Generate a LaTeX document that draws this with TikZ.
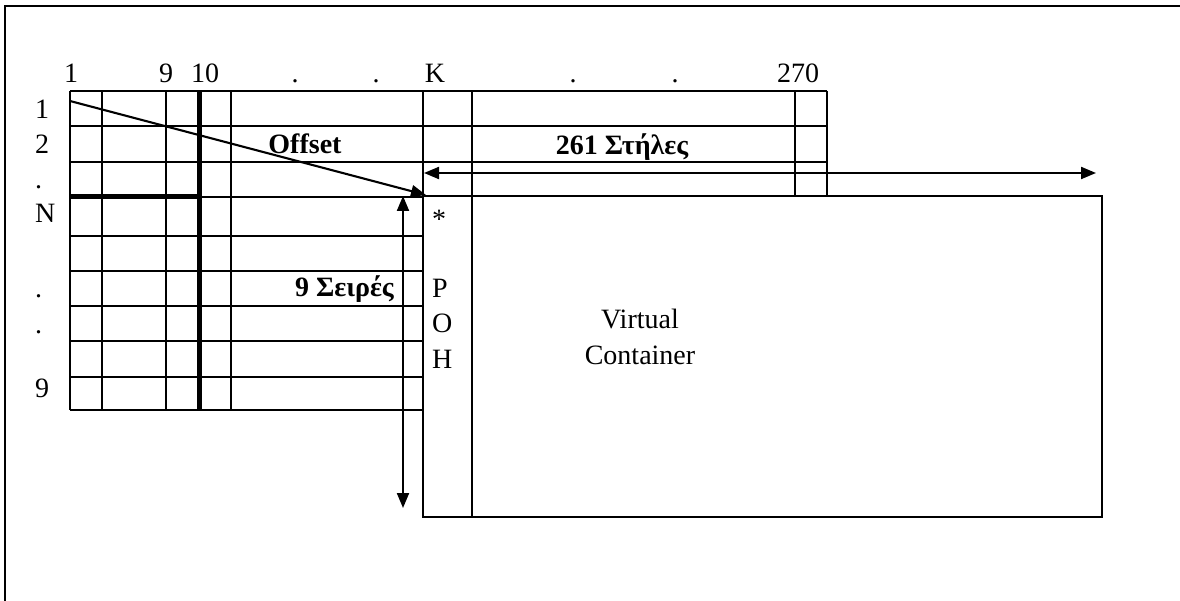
\documentclass[tikz,border=0pt]{standalone}
\usepackage{fontspec}
\setmainfont{Liberation Serif}
\usetikzlibrary{arrows.meta}
\begin{document}
\begin{tikzpicture}[x=1pt,y=-1pt,
  gridline/.style={line width=2.1pt},
  heavyline/.style={line width=5pt},
  frameline/.style={line width=2.8pt},
  tip/.tip={Triangle[length=15pt,width=12pt]},
  arr/.style={line width=2.1pt,-tip},
  darr/.style={line width=2.1pt,tip-tip},
  lbl/.style={font=\fontsize{28}{34}\selectfont, inner sep=0pt, anchor=base},
  lblw/.style={lbl, anchor=base west},
  blbl/.style={lbl, font=\fontsize{28}{34}\selectfont\bfseries},
]
\useasboundingbox (0,0) rectangle (1180,601);
% frame
\draw[frameline] (5,601) -- (5,6) -- (1180,6);

% top section horizontal lines
\foreach \y in {91,126,162} \draw[gridline] (70,\y) -- (827,\y);
\draw[gridline] (199,197) -- (423,197);
\draw[heavyline] (70,197) -- (199,197);
% vertical lines of the left table
\foreach \x in {70,102,166,231} \draw[gridline] (\x,91) -- (\x,410);
\foreach \x in {472,795,827} \draw[gridline] (\x,91) -- (\x,197);
\draw[gridline] (423,91) -- (423,197);
\draw[heavyline] (199,91) -- (199,410);
% lower section horizontal lines
\foreach \y in {236,271,306,341,377,410} \draw[gridline] (70,\y) -- (423,\y);

% virtual container box
\draw[gridline] (423,196) rectangle (1102,517);
\draw[gridline] (472,196) -- (472,517);

% column numbers
\node[lbl] (c1) at (71,83) {1};
\node[lbl] (c9) at (166,83) {9};
\node[lbl] (c10) at (205,83) {10};
\node[lbl] (cd1) at (295,83) {.};
\node[lbl] (cd2) at (376,83) {.};
\node[lbl] (cK) at (435,83) {K};
\node[lbl] (cd3) at (573,83) {.};
\node[lbl] (cd4) at (675,83) {.};
\node[lbl] (c270) at (798,83) {270};

% row numbers
\node[lblw] (r1) at (35,119) {1};
\node[lblw] (r2) at (35,154) {2};
\node[lblw] (r3) at (35,189) {.};
\node[lblw] (rN) at (35,223) {N};
\node[lblw] (r6) at (35,298) {.};
\node[lblw] (r7) at (35,334) {.};
\node[lblw] (r9) at (35,397) {9};

% POH column
\node[lblw] (ast) at (432,229) {*};
\node[lblw] (pP) at (432,298) {P};
\node[lblw] (pO) at (432,333) {O};
\node[lblw] (pH) at (432,368) {H};

% bold labels
\node[blbl] (offset) at (305,154) {Offset};
\node[blbl] (cols) at (622,155) {261 Στήλες};
\node[blbl, anchor=base east] (rows) at (394,297) {9 Σειρές};

% virtual container text
\node[lbl] (vc1) at (640,329) {Virtual};
\node[lbl] (vc2) at (640,364) {Container};

% arrows
\coordinate (dstart) at (70,101);
\coordinate (dend) at (426,195);
\coordinate (hl) at (424,173);
\coordinate (hr) at (1096,173);
\coordinate (vt) at (403,196);
\coordinate (vb) at (403,508);
\draw[arr] (dstart) -- (dend);
\draw[darr] (hl) -- (hr);
\draw[darr] (vt) -- (vb);
\end{tikzpicture}
\end{document}
